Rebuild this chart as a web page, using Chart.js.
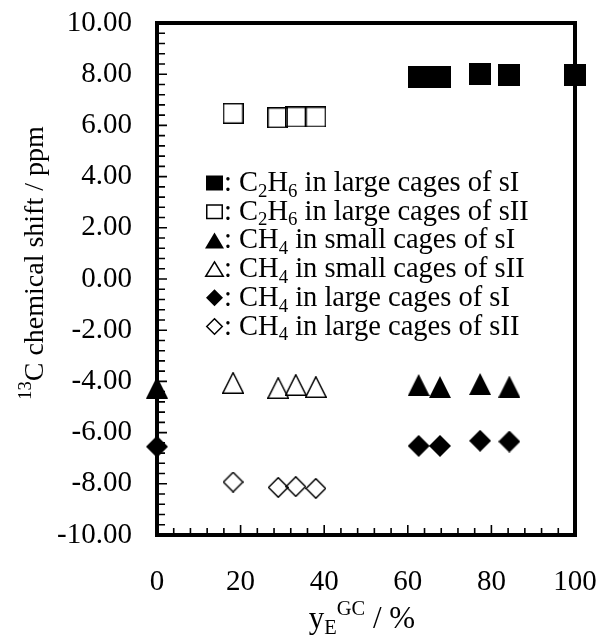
<!DOCTYPE html>
<html>
<head>
<meta charset="utf-8">
<script src="https://cdn.jsdelivr.net/npm/chart.js@4/dist/chart.umd.min.js"></script>
<style>
  html, body { margin: 0; padding: 0; background: #fff; }
  #wrap { width: 598px; height: 637px; }
</style>
</head>
<body>
<div id="wrap"><canvas id="shift-chart" width="598" height="637"></canvas></div>
<script>
// y_E^GC (%) and 13C shifts (ppm) for each cage / structure
const xC2H6sI = [62.6, 67.7, 77.3, 84.3, 100];
const yC2H6sI = [7.90, 7.90, 8.00, 7.95, 7.96];
const xC2H6sII = [18.2, 28.9, 33.2, 38.0];
const yC2H6sII = [6.47, 6.30, 6.33, 6.33];
const xCH4sI = [0, 62.6, 67.7, 77.3, 84.3];
const yCH4smallSI = [-4.24, -4.14, -4.22, -4.10, -4.20];
const yCH4largeSI = [-6.55, -6.52, -6.52, -6.32, -6.35];
const xCH4sII = [18.2, 29.0, 33.2, 38.0];
const yCH4smallSII = [-4.06, -4.26, -4.14, -4.22];
const yCH4largeSII = [-7.93, -8.14, -8.11, -8.18];

const xTickValues = [0, 20, 40, 60, 80, 100];
const yTickValues = [-10, -8, -6, -4, -2, 0, 2, 4, 6, 8, 10];
const xMinorStep = 4;
const yMinorStep = 0.4;

const FONT = "'Liberation Serif', 'Times New Roman', serif";

// legend rows: [marker kind, filled, text runs]
const legendRows = [
  ['square', true,    [['', ': C'], ['sub', '2'], ['', 'H'], ['sub', '6'], ['', ' in large cages of sI']]],
  ['square', false,   [['', ': C'], ['sub', '2'], ['', 'H'], ['sub', '6'], ['', ' in large cages of sII']]],
  ['triangle', true,  [['', ': CH'], ['sub', '4'], ['', ' in small cages of sI']]],
  ['triangle', false, [['', ': CH'], ['sub', '4'], ['', ' in small cages of sII']]],
  ['diamond', true,   [['', ': CH'], ['sub', '4'], ['', ' in large cages of sI']]],
  ['diamond', false,  [['', ': CH'], ['sub', '4'], ['', ' in large cages of sII']]]
];

function drawShape(ctx, kind, cx, cy, w, h, filled) {
  ctx.save();
  ctx.beginPath();
  const lw = 1.5;
  const hw = w / 2 - (filled ? 0 : lw / 2);
  const hh = h / 2 - (filled ? 0 : lw / 2);
  if (kind === 'square') {
    ctx.rect(cx - hw, cy - hh, hw * 2, hh * 2);
  } else if (kind === 'triangle') {
    ctx.moveTo(cx, cy - hh);
    ctx.lineTo(cx + hw, cy + hh);
    ctx.lineTo(cx - hw, cy + hh);
    ctx.closePath();
  } else {
    ctx.moveTo(cx, cy - hh);
    ctx.lineTo(cx + hw, cy);
    ctx.lineTo(cx, cy + hh);
    ctx.lineTo(cx - hw, cy);
    ctx.closePath();
  }
  if (filled) {
    ctx.fillStyle = '#000';
    ctx.fill();
  } else {
    ctx.lineWidth = lw;
    ctx.lineJoin = 'miter';
    ctx.strokeStyle = '#000';
    ctx.stroke();
  }
  ctx.restore();
}

function markerImage(kind, filled, w, h) {
  const c = document.createElement('canvas');
  c.width = w;
  c.height = h;
  drawShape(c.getContext('2d'), kind, w / 2, h / 2, w, h, filled);
  return c;
}

// text with sub/superscript runs, returns the width drawn
function richText(ctx, runs, x, y, size, measureOnly) {
  let cx = x;
  for (const [kind, str] of runs) {
    const s = kind ? size * 0.66 : size;
    ctx.font = s + 'px ' + FONT;
    const dy = kind === 'sub' ? size * 0.2 : kind === 'sup' ? -size * 0.42 : 0;
    if (!measureOnly) ctx.fillText(str, cx, y + dy);
    cx += ctx.measureText(str).width;
  }
  return cx - x;
}

const frameAndTicks = {
  id: 'frameAndTicks',
  beforeDatasetsDraw(chart) {
    const { ctx, chartArea: a, scales: { x, y } } = chart;
    ctx.save();
    ctx.strokeStyle = '#000';
    ctx.lineWidth = 1.6;
    ctx.beginPath();
    const ny = Math.round((y.max - y.min) / yMinorStep);
    for (let i = 0; i <= ny; i++) {
      const py = y.getPixelForValue(y.min + i * yMinorStep);
      const len = i % 5 === 0 ? 10 : 8;
      ctx.moveTo(a.left, py);
      ctx.lineTo(a.left + len, py);
    }
    const nx = Math.round((x.max - x.min) / xMinorStep);
    for (let i = 0; i <= nx; i++) {
      const px = x.getPixelForValue(x.min + i * xMinorStep);
      const len = i % 5 === 0 ? 10 : 7;
      ctx.moveTo(px, a.bottom);
      ctx.lineTo(px, a.bottom - len);
    }
    ctx.stroke();
    ctx.lineWidth = 4;
    ctx.strokeRect(a.left, a.top, a.right - a.left, a.bottom - a.top);
    ctx.restore();
  },
  afterDraw(chart) {
    const { ctx, chartArea: a } = chart;
    ctx.save();
    ctx.fillStyle = '#000';
    ctx.textBaseline = 'alphabetic';
    ctx.textAlign = 'left';

    // legend block
    legendRows.forEach(([kind, filled, runs], i) => {
      const cy = 183 + i * 28.7;
      const w = kind === 'triangle' ? 19 : 17;
      const h = kind === 'triangle' ? 16 : kind === 'diamond' ? 17 : 15;
      drawShape(ctx, kind, 214.5, cy, w, h, filled);
      richText(ctx, runs, 224, cy + 8, 28.5);
    });

    // x title
    const xRuns = [['', 'y'], ['sub', 'E'], ['sup', 'GC'], ['', ' / %']];
    const xw = richText(ctx, xRuns, 0, 0, 31, true);
    richText(ctx, xRuns, (a.left + a.right) / 2 - xw / 2 - 4, 628, 31);

    // y title
    const yRuns = [['sup', '13'], ['', 'C chemical shift / ppm']];
    const yw = richText(ctx, yRuns, 0, 0, 28, true);
    ctx.translate(43, 263);
    ctx.rotate(-Math.PI / 2);
    richText(ctx, yRuns, -yw / 2, 0, 28);
    ctx.restore();
  }
};

const img = {
  sqFill: markerImage('square', true, 22, 22),
  sqOpen: markerImage('square', false, 21, 21),
  triFill: markerImage('triangle', true, 22, 22),
  triOpen: markerImage('triangle', false, 22, 22),
  diaFill: markerImage('diamond', true, 22, 22),
  diaOpen: markerImage('diamond', false, 21, 21)
};

function series(label, xs, ys, style) {
  return {
    label: label,
    data: xs.map((v, i) => ({ x: v, y: ys[i] })),
    pointStyle: style,
    pointRadius: 11,
    showLine: false,
    clip: false
  };
}

const data = {
  datasets: [
    series('C2H6 in large cages of sI', xC2H6sI, yC2H6sI, img.sqFill),
    series('C2H6 in large cages of sII', xC2H6sII, yC2H6sII, img.sqOpen),
    series('CH4 in small cages of sI', xCH4sI, yCH4smallSI, img.triFill),
    series('CH4 in small cages of sII', xCH4sII, yCH4smallSII, img.triOpen),
    series('CH4 in large cages of sI', xCH4sI, yCH4largeSI, img.diaFill),
    series('CH4 in large cages of sII', xCH4sII, yCH4largeSII, img.diaOpen)
  ]
};

const config = {
  type: 'scatter',
  data: data,
  options: {
    responsive: false,
    animation: false,
    events: [],
    layout: { padding: { top: 23, right: 23, left: 0, bottom: 0 } },
    plugins: { legend: { display: false }, tooltip: { enabled: false } },
    scales: {
      x: {
        type: 'linear',
        min: 0,
        max: 100,
        afterBuildTicks: (s) => { s.ticks = xTickValues.map(v => ({ value: v })); },
        afterFit: (s) => {
          s.height = 102;
          s.paddingLeft = 0;
          s.paddingRight = 0;
        },
        grid: { display: false, drawTicks: false },
        border: { display: false },
        ticks: { color: '#000', padding: 30, font: { family: FONT, size: 29 } }
      },
      y: {
        type: 'linear',
        min: -10,
        max: 10,
        afterBuildTicks: (s) => { s.ticks = yTickValues.map(v => ({ value: v })); },
        afterFit: (s) => {
          s.width = 157;
          s.paddingTop = 0;
          s.paddingBottom = 0;
        },
        grid: { display: false, drawTicks: false },
        border: { display: false },
        ticks: {
          color: '#000',
          padding: 25,
          font: { family: FONT, size: 29 },
          callback: (v) => v.toFixed(2)
        }
      }
    }
  },
  plugins: [frameAndTicks]
};

new Chart(document.getElementById('shift-chart'), config);
</script>
</body>
</html>
